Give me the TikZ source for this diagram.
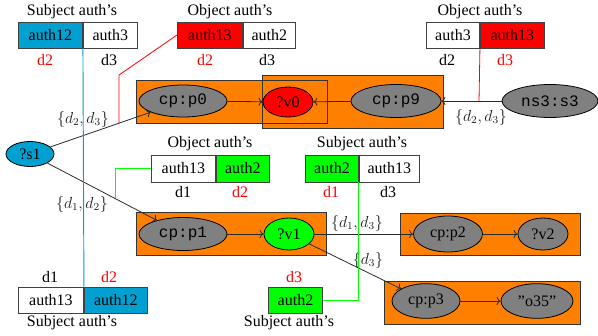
\documentclass[tikz,border=0pt]{standalone}
\usepackage[no-math]{fontspec}
\setmainfont{Liberation Serif}
\setmonofont{Liberation Mono}
\usetikzlibrary{shapes.geometric,calc,arrows.meta}
\definecolor{myblue}{HTML}{00A0D0}
\definecolor{mygreen}{HTML}{00FF00}
\definecolor{myred}{HTML}{FF0000}
\definecolor{myorange}{HTML}{FF8000}
\definecolor{mygray}{HTML}{808080}
\definecolor{edgecol}{HTML}{2A2A2A}
\tikzset{
  every node/.style={font=\fontsize{12}{14}\selectfont},
  cell/.style={draw=black!75, line width=0.7pt, anchor=west, minimum height=19.5pt, inner sep=0pt},
  ell/.style={ellipse, draw=black, line width=0.6pt, inner sep=0pt},
  tt/.style={font=\fontsize{12}{14}\selectfont\ttfamily},
  edge/.style={draw=edgecol, line width=0.6pt, -{To[length=3pt,width=6pt]}},
  elabel/.style={text=black!88},
  grp/.style={fill=myorange},
  grpline/.style={draw=black!80, line width=0.7pt},
  dred/.style={text=myred},
}
\begin{document}
\begin{tikzpicture}[x=0.75pt,y=-0.75pt]
\useasboundingbox (0,0) rectangle (598,335);
% orange group boxes
\path[grp] (136,80) rectangle (327,123);
\path[grp] (262,75) rectangle (443,128);
\path[grpline] (136,80) rectangle (327,123);
\path[grpline] (262,75) rectangle (443,128);
\path[grp] (136,212) rectangle (326,255);
\path[grpline] (136,212) rectangle (326,255);
\path[grp] (400,213) rectangle (580,255);
\path[grpline] (400,213) rectangle (580,255);
\path[grp] (384,281) rectangle (580,324);
\path[grpline] (384,281) rectangle (580,324);

% ellipses
\node[ell, tt, fill=mygray, minimum width=66pt, minimum height=24pt] (p0) at (183,101) {cp:p0};
\node[ell, fill=myred, minimum width=37.5pt, minimum height=22.5pt] (v0) at (288,102) {?v0};
\node[ell, tt, fill=mygray, minimum width=67.5pt, minimum height=24.75pt] (p9) at (396,101) {cp:p9};
\node[ell, tt, fill=mygray, minimum width=72pt, minimum height=24.75pt] (ns3) at (550,101) {ns3:s3};
\node[ell, fill=myblue, minimum width=36pt, minimum height=18.75pt] (s1) at (30,154) {?s1};
\node[ell, tt, fill=mygray, minimum width=66pt, minimum height=24.75pt] (p1) at (183,234) {cp:p1};
\node[ell, fill=mygreen, minimum width=37.5pt, minimum height=24pt] (v1) at (289,234) {?v1};
\node[ell, fill=mygray, minimum width=51.75pt, minimum height=27pt] (p2) at (448,234) {cp:p2};
\node[ell, fill=mygray, minimum width=37.5pt, minimum height=24pt] (v2) at (543,234) {?v2};
\node[ell, fill=mygray, minimum width=51pt, minimum height=26pt] (p3) at (426,301) {cp:p3};
\node[ell, fill=mygray, minimum width=54pt, minimum height=26pt] (o35) at (537,301) {''o35''};

% edges
\draw[edge] (s1) -- (p0);
\draw[edge] (s1) -- (p1);
\draw[edge] (p0) -- (v0);
\draw[edge] (p9) -- (v0);
\draw[edge] (ns3) -- (p9);
\draw[edge] (p1) -- (v1);
\draw[edge] (v1) -- (p2);
\draw[edge] (v1) -- (p3);
\draw[edge] (p2) -- (v2);
\draw[edge] (p3) -- (o35);

% edge labels
\node[elabel] (l1) at (83,119) {$\{d_2,d_3\}$};
\node[elabel] (l2) at (82,204) {$\{d_1,d_2\}$};
\node[elabel] (l3) at (481,117) {$\{d_2,d_3\}$};
\node[elabel] (l4) at (357,223) {$\{d_1,d_3\}$};
\node[elabel] (l5) at (368,260) {$\{d_3\}$};

% top-left: subject auth's
\node (t1) at (72,12) {Subject auth’s};
\node[cell, fill=myblue, minimum width=48pt] (a12) at (18,35) {auth12};
\node[cell, minimum width=40.5pt] (a3) at (a12.east) {auth3};
\node[dred] (t1d2) at (45,60) {d2};
\node (t1d3) at (109,60) {d3};

% top-middle: object auth's
\node (t2) at (230,12) {Object auth’s};
\node[cell, fill=myred, minimum width=48.75pt] (b13) at (177,35) {auth13};
\node[cell, minimum width=39pt] (b2) at (b13.east) {auth2};
\node[dred] (t2d2) at (205,60) {d2};
\node (t2d3) at (267,60) {d3};

% top-right: object auth's
\node (t3) at (480,12) {Object auth’s};
\node[cell, minimum width=39.75pt] (c3) at (426,35) {auth3};
\node[cell, fill=myred, minimum width=48pt] (c13) at (c3.east) {auth13};
\node (t3d2) at (447,60) {d2};
\node[dred] (t3d3) at (505,60) {d3};

% middle-left: object auth's
\node (t4) at (210,144) {Object auth’s};
\node[cell, minimum width=48pt, minimum height=20.25pt] (d13) at (151,168.5) {auth13};
\node[cell, fill=mygreen, minimum width=39.75pt, minimum height=20.25pt] (d2) at (d13.east) {auth2};
\node (t4d1) at (183,192) {d1};
\node[dred] (t4d2) at (240,192) {d2};

% middle-right: subject auth's
\node (t5) at (362,144) {Subject auth’s};
\node[cell, fill=mygreen, minimum width=39.75pt, minimum height=20.25pt] (e2) at (305,168.5) {auth2};
\node[cell, minimum width=45pt, minimum height=20.25pt] (e13) at (e2.east) {auth13};
\node[dred] (t5d1) at (331,192) {d1};
\node (t5d3) at (388,192) {d3};

% bottom-left: subject auth's
\node (t6d1) at (50,277) {d1};
\node[dred] (t6d2) at (109,277) {d2};
\node[cell, minimum width=48.75pt] (f13) at (18,300) {auth13};
\node[cell, fill=myblue, minimum width=47.25pt] (f12) at (f13.east) {auth12};
\node (t6) at (72,323) {Subject auth’s};

% bottom-middle: subject auth's
\node[dred] (t7d3) at (294,277) {d3};
\node[cell, fill=mygreen, minimum width=40.5pt] (g2) at (268,300) {auth2};
\node (t7) at (289,323) {Subject auth’s};

% coloured connectors
\coordinate (r1) at ($(s1.center)!0.582!(p0.center)$);
\coordinate (r2) at ($(ns3.center)!0.461!(p9.center)$);
\coordinate (gq) at ($(s1.center)!0.556!(p1.center)$);
\draw[myblue, line width=0.7pt] (a12.south east) -- (f12.north west);
\draw[myred, line width=0.6pt] (b13.west) -- (r1 |- 0,75) -- (r1);
\draw[myred, line width=0.6pt] (c13.south west) -- (r2);
\draw[mygreen, line width=0.7pt] (d13.west) -| (gq);
\draw[mygreen, line width=0.7pt] (e13.south west) |- (g2.east);
\end{tikzpicture}
\end{document}
